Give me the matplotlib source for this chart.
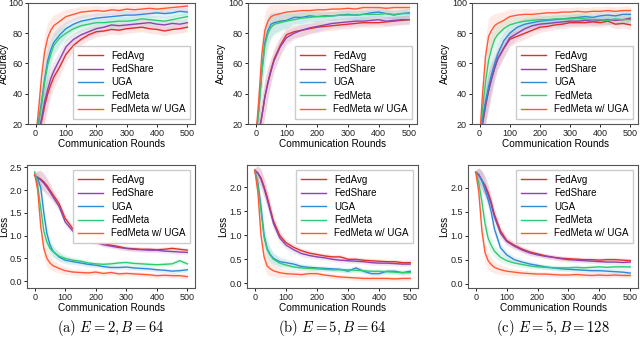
import numpy as np
import matplotlib
matplotlib.use("Agg")
import matplotlib.pyplot as plt

plt.rcParams['mathtext.fontset'] = 'cm'
plt.rcParams['font.family'] = ['Liberation Sans', 'DejaVu Sans']
plt.rcParams['font.size'] = 7

# Communication rounds at which the curves were read
rounds = [0, 10, 20, 30, 40, 50, 60, 80, 100, 125, 150, 175, 200, 225, 250,
          275, 300, 325, 350, 375, 400, 425, 450, 475, 500]

methods = ['FedAvg', 'FedShare', 'UGA', 'FedMeta', 'FedMeta w/ UGA']
colors = ['#e0302c', '#8e44ad', '#2e8bd6', '#2ecc71', '#ff5a36']

# accuracy, (a) E=2, B=64
acc_a_fedavg = [10, 14, 22, 32, 40, 46, 51, 58, 66, 72, 76, 79, 81, 81.5, 82.5, 82, 83, 83.5, 84, 83, 82.5, 81.5, 82.5, 83, 84]
acc_a_fedshare = [10, 15, 24, 35, 43, 50, 55, 63, 71, 76, 79, 81, 83, 84, 85.5, 85, 85.5, 86, 86.5, 87, 86, 85.5, 86.5, 86, 87]
acc_a_uga = [10, 22, 35, 50, 62, 69, 74, 79, 83, 86, 88, 89, 90, 90.5, 91, 91.5, 92, 92, 92.5, 93, 93.5, 93, 93.5, 94.5, 94]
acc_a_fedmeta = [10, 20, 33, 48, 59, 66, 72, 77, 80, 83, 85, 86, 87, 87, 87.5, 88, 88, 88.5, 89.5, 89, 88.5, 88, 89, 90, 91]
acc_a_fedmeta_uga = [10, 30, 52, 68, 77, 82, 85, 88, 91, 92.5, 94, 94.5, 95, 94.5, 95.5, 95, 96, 95.5, 96, 96.5, 96, 96.5, 97, 97.5, 98]

# accuracy, (b) E=5, B=64
acc_b_fedavg = [10, 14, 25, 38, 48, 56, 63, 72, 79, 81, 82, 83, 84, 84.5, 85, 85.5, 86, 86.5, 87, 87, 87, 87.5, 88, 88.5, 89]
acc_b_fedshare = [10, 14, 25, 38, 47, 55, 62, 71, 77, 80, 82, 83.5, 84.5, 85.5, 86.5, 87, 87.5, 88, 88, 88.5, 89, 88, 88.5, 89, 89]
acc_b_uga = [10, 30, 55, 74, 82, 86, 87, 88, 88.5, 90.5, 90.5, 91.5, 91, 91.5, 91.5, 92, 92.5, 92, 92.5, 93.5, 94, 93, 92, 93, 93.5]
acc_b_fedmeta = [10, 28, 54, 72, 80, 84, 86, 87, 88, 89, 90, 90.5, 91, 91, 91.5, 92, 92, 92, 92.5, 92.5, 92.5, 93, 92.5, 93, 93]
acc_b_fedmeta_uga = [10, 36, 66, 82, 88, 91, 92, 93, 94, 94.5, 95, 95, 95.5, 95.5, 96, 96, 96.5, 96, 97, 97, 97, 96.5, 97, 97, 97]

# accuracy, (c) E=5, B=128
acc_c_fedavg = [10, 20, 32, 42, 50, 57, 63, 70, 76, 78, 80, 82, 84, 84.5, 85.5, 86, 87, 87, 87, 87.5, 87, 88, 86, 86.5, 85.5]
acc_c_fedshare = [10, 21, 33, 42, 50, 57, 63, 70, 77, 80, 83, 85, 86, 86.5, 87, 87.5, 88, 88, 88.5, 88, 88.5, 89, 88.5, 89, 90]
acc_c_uga = [10, 24, 35, 45, 53, 60, 66, 75, 80, 84, 86, 87, 88, 88.5, 89, 89.5, 90, 90.5, 91, 90.5, 91.5, 92, 91.5, 92.5, 92.5]
acc_c_fedmeta = [10, 30, 48, 62, 70, 76, 79, 83, 85.5, 87, 88, 88.5, 89, 89, 89.5, 89.5, 89.5, 90, 89.5, 89, 89, 88.5, 89.5, 89, 89]
acc_c_fedmeta_uga = [10, 40, 65, 78, 82, 85, 86.5, 88.5, 91, 92, 92.5, 92.5, 93, 93.5, 93.5, 94, 94, 94.5, 94, 94.5, 94.5, 95, 94.5, 95, 95]

# loss, (a)
loss_a_fedavg = [2.32, 2.28, 2.24, 2.18, 2.1, 2.0, 1.9, 1.7, 1.38, 1.15, 1.02, 0.94, 0.88, 0.83, 0.79, 0.76, 0.72, 0.71, 0.7, 0.7, 0.69, 0.7, 0.72, 0.7, 0.68]
loss_a_fedshare = [2.32, 2.27, 2.22, 2.15, 2.06, 1.96, 1.85, 1.64, 1.3, 1.1, 0.98, 0.9, 0.85, 0.8, 0.77, 0.74, 0.72, 0.7, 0.69, 0.68, 0.68, 0.66, 0.65, 0.64, 0.63]
loss_a_uga = [2.33, 2.25, 2.05, 1.5, 1.05, 0.8, 0.66, 0.53, 0.46, 0.43, 0.4, 0.37, 0.35, 0.32, 0.3, 0.3, 0.31, 0.29, 0.28, 0.27, 0.25, 0.24, 0.22, 0.23, 0.25]
loss_a_fedmeta = [2.4, 2.1, 1.6, 1.1, 0.86, 0.72, 0.65, 0.55, 0.5, 0.46, 0.44, 0.4, 0.38, 0.37, 0.38, 0.4, 0.41, 0.39, 0.38, 0.37, 0.36, 0.37, 0.38, 0.45, 0.38]
loss_a_fedmeta_uga = [2.35, 2.0, 1.2, 0.72, 0.5, 0.4, 0.34, 0.28, 0.23, 0.2, 0.19, 0.18, 0.2, 0.17, 0.19, 0.16, 0.17, 0.16, 0.15, 0.14, 0.12, 0.13, 0.12, 0.12, 0.1]

# loss, (b)
loss_b_fedavg = [2.36, 2.3, 2.2, 2.02, 1.8, 1.55, 1.3, 1.0, 0.85, 0.75, 0.68, 0.63, 0.6, 0.57, 0.55, 0.55, 0.5, 0.5, 0.48, 0.47, 0.46, 0.45, 0.45, 0.43, 0.43]
loss_b_fedshare = [2.36, 2.3, 2.17, 1.98, 1.75, 1.5, 1.25, 0.95, 0.8, 0.7, 0.62, 0.58, 0.55, 0.53, 0.5, 0.48, 0.47, 0.46, 0.45, 0.43, 0.42, 0.42, 0.41, 0.4, 0.4]
loss_b_uga = [2.36, 2.1, 1.6, 1.0, 0.72, 0.6, 0.52, 0.45, 0.43, 0.4, 0.35, 0.33, 0.32, 0.31, 0.3, 0.29, 0.25, 0.32, 0.25, 0.2, 0.2, 0.25, 0.25, 0.22, 0.25]
loss_b_fedmeta = [2.36, 2.05, 1.5, 0.95, 0.7, 0.58, 0.5, 0.42, 0.38, 0.34, 0.32, 0.31, 0.3, 0.29, 0.28, 0.28, 0.28, 0.27, 0.26, 0.25, 0.25, 0.24, 0.23, 0.22, 0.22]
loss_b_fedmeta_uga = [2.36, 1.9, 1.0, 0.55, 0.36, 0.3, 0.26, 0.22, 0.2, 0.19, 0.18, 0.2, 0.2, 0.17, 0.15, 0.13, 0.12, 0.11, 0.1, 0.1, 0.1, 0.1, 0.09, 0.1, 0.1]

# loss, (c)
loss_c_fedavg = [2.32, 2.27, 2.15, 2.05, 1.9, 1.7, 1.45, 1.1, 0.9, 0.8, 0.72, 0.66, 0.62, 0.58, 0.55, 0.53, 0.52, 0.51, 0.5, 0.5, 0.49, 0.5, 0.5, 0.49, 0.48]
loss_c_fedshare = [2.32, 2.26, 2.15, 2.02, 1.85, 1.65, 1.4, 1.05, 0.88, 0.78, 0.7, 0.64, 0.6, 0.57, 0.55, 0.52, 0.5, 0.49, 0.48, 0.47, 0.46, 0.45, 0.45, 0.44, 0.45]
loss_c_uga = [2.32, 2.25, 2.15, 1.95, 1.75, 1.5, 1.15, 0.75, 0.6, 0.5, 0.45, 0.41, 0.38, 0.35, 0.33, 0.31, 0.3, 0.29, 0.28, 0.27, 0.27, 0.26, 0.25, 0.24, 0.22]
loss_c_fedmeta = [2.32, 2.1, 1.7, 1.25, 0.95, 0.8, 0.68, 0.55, 0.48, 0.43, 0.4, 0.37, 0.35, 0.34, 0.33, 0.33, 0.33, 0.34, 0.33, 0.34, 0.35, 0.34, 0.35, 0.35, 0.35]
loss_c_fedmeta_uga = [2.32, 1.9, 1.1, 0.65, 0.48, 0.4, 0.34, 0.29, 0.26, 0.24, 0.22, 0.21, 0.2, 0.2, 0.19, 0.18, 0.18, 0.19, 0.18, 0.17, 0.18, 0.17, 0.18, 0.17, 0.17]

# half-width of the shaded bands
acc_band = [6, 10, 12, 12, 10, 8, 7, 6, 5, 4, 4, 3.5, 3.5, 3, 3, 3, 3, 3, 3, 3, 3, 3, 3, 3, 3]
loss_band = [0.05, 0.15, 0.2, 0.2, 0.18, 0.15, 0.12, 0.1, 0.08, 0.07, 0.06, 0.06, 0.05, 0.05, 0.05,
             0.05, 0.05, 0.05, 0.05, 0.05, 0.05, 0.05, 0.05, 0.05, 0.05]

captions = [r'$\mathrm{(a)}\ E = 2, B = 64$', r'$\mathrm{(b)}\ E = 5, B = 64$',
            r'$\mathrm{(c)}\ E = 5, B = 128$']

acc_sets = [
    [acc_a_fedavg, acc_a_fedshare, acc_a_uga, acc_a_fedmeta, acc_a_fedmeta_uga],
    [acc_b_fedavg, acc_b_fedshare, acc_b_uga, acc_b_fedmeta, acc_b_fedmeta_uga],
    [acc_c_fedavg, acc_c_fedshare, acc_c_uga, acc_c_fedmeta, acc_c_fedmeta_uga],
]
loss_sets = [
    [loss_a_fedavg, loss_a_fedshare, loss_a_uga, loss_a_fedmeta, loss_a_fedmeta_uga],
    [loss_b_fedavg, loss_b_fedshare, loss_b_uga, loss_b_fedmeta, loss_b_fedmeta_uga],
    [loss_c_fedavg, loss_c_fedshare, loss_c_uga, loss_c_fedmeta, loss_c_fedmeta_uga],
]

fig = plt.figure(figsize=(6.4, 3.44), dpi=100)

# axes boxes in pixels: left, top, right, bottom
top_boxes = [(28, 3, 195, 124), (248, 3, 417, 124), (472, 3, 638, 124)]
bot_boxes = [(27, 165, 195, 288), (247, 165, 418, 288), (468, 165, 638, 288)]
loss_ylims = [(-0.15, 2.55), (-0.1, 2.47), (-0.09, 2.47)]
caption_x = [111, 332, 553]

W, H = 640.0, 344.0


def make_axes(box):
    l, t, r, b = box
    return fig.add_axes([l / W, 1 - b / H, (r - l) / W, (b - t) / H])


def style(ax, box, col):
    for sp in ax.spines.values():
        sp.set_color('#555555')
        sp.set_linewidth(0.8)
    ax.tick_params(labelsize=6.5, colors='#222222', length=2.5, width=0.7, pad=1.2)
    ax.set_xlabel('Communication Rounds', fontsize=7.2, labelpad=0.5)
    if col == 0:
        # keep the y label inside the figure's left edge
        ax.yaxis.set_label_coords((9.0 - box[0]) / (box[2] - box[0]), 0.5)


x = np.array(rounds)
for col in range(3):
    ax = make_axes(top_boxes[col])
    for vals, c, name in zip(acc_sets[col], colors, methods):
        v = np.array(vals)
        ax.fill_between(x, v - np.array(acc_band), v + np.array(acc_band), color=c, alpha=0.12, lw=0)
        ax.plot(x, v, color=c, lw=1.0, label=name)
    ax.set_ylim(20, 100)
    ax.set_yticks([20, 40, 60, 80, 100])
    ax.set_xticks([0, 100, 200, 300, 400, 500])
    ax.set_ylabel('Accuracy', fontsize=7.2, labelpad=1)
    style(ax, top_boxes[col], col)
    ax.legend(loc='lower right', fontsize=7, handlelength=2.6, borderpad=0.5,
              labelspacing=0.35, framealpha=1, edgecolor='#cccccc', fancybox=False)

    ax = make_axes(bot_boxes[col])
    for vals, c, name in zip(loss_sets[col], colors, methods):
        v = np.array(vals)
        ax.fill_between(x, v - np.array(loss_band), v + np.array(loss_band), color=c, alpha=0.12, lw=0)
        ax.plot(x, v, color=c, lw=1.0, label=name)
    ax.set_ylim(*loss_ylims[col])
    ax.set_xticks([0, 100, 200, 300, 400, 500])
    ax.set_ylabel('Loss', fontsize=7.2, labelpad=1)
    style(ax, bot_boxes[col], col)
    ax.legend(loc='upper right', fontsize=7, handlelength=2.6, borderpad=0.5,
              labelspacing=0.35, framealpha=1, edgecolor='#cccccc', fancybox=False)

    fig.text(caption_x[col] / W, 1 - 328 / H, captions[col], ha='center', va='center', fontsize=10.5)

fig.savefig('out.png', dpi=100)
